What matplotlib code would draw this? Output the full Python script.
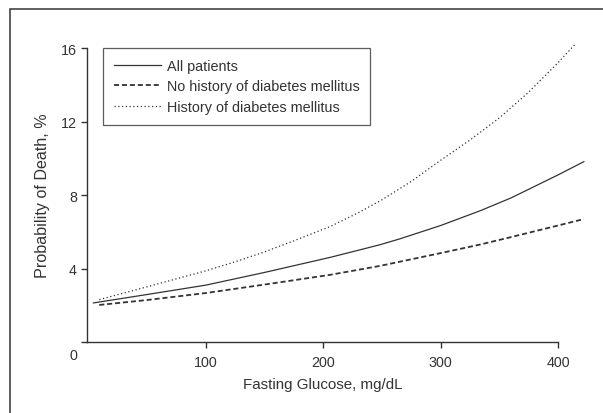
import matplotlib
matplotlib.use("Agg")

import matplotlib.pyplot as plt
from matplotlib.patches import Rectangle

plt.rcParams['font.family'] = ['Liberation Sans Narrow', 'Liberation Sans', 'DejaVu Sans']

# glucose (mg/dL) vs probability of death (%)
glucose_all = [4, 50, 100, 150, 206, 248, 265, 300, 334, 360, 400, 422]
death_all = [2.14, 2.6, 3.11, 3.8, 4.62, 5.3, 5.62, 6.35, 7.16, 7.85, 9.1, 9.82]

glucose_nodm = [9, 50, 100, 150, 206, 248, 300, 334, 360, 400, 422]
death_nodm = [2.03, 2.3, 2.68, 3.14, 3.67, 4.15, 4.85, 5.32, 5.72, 6.35, 6.7]

glucose_dm = [9, 50, 100, 125, 150, 175, 206, 230, 250, 275, 300, 325, 350, 375, 400, 414.5]
death_dm = [2.32, 3.02, 3.89, 4.38, 4.92, 5.52, 6.3, 7.05, 7.75, 8.75, 9.9, 11.0, 12.2, 13.6, 15.2, 16.2]

series_labels = ["All patients", "No history of diabetes mellitus", "History of diabetes mellitus"]
x_ticks = [100, 200, 300, 400]
y_ticks = [0, 4, 8, 12, 16]
y_ticklabels = ["", "4", "8", "12", "16"]

ink = "#333333"

fig = plt.figure(figsize=(6.03, 4.14), dpi=100)
ax = fig.add_axes([0.1438, 0.1708, 0.9254 - 0.1438, 0.8816 - 0.1708])

ax.plot(glucose_all, death_all, color=ink, lw=0.9, ls="-",
        label=series_labels[0], clip_on=False)
ax.plot(glucose_nodm, death_nodm, color=ink, lw=1.3, ls=(0, (2.8, 1.6)),
        label=series_labels[1], clip_on=False)
ax.plot(glucose_dm, death_dm, color=ink, lw=0.9, ls=(0, (1, 2)),
        label=series_labels[2], clip_on=False)

ax.set_xlim(-1.7, 400)
ax.set_ylim(0, 16)
ax.set_xticks(x_ticks)
ax.set_yticks(y_ticks)
ax.set_yticklabels(y_ticklabels)

for side in ["top", "right"]:
    ax.spines[side].set_visible(False)
for side in ["left", "bottom"]:
    ax.spines[side].set_color(ink)
    ax.spines[side].set_linewidth(1.0)

ax.tick_params(direction="out", length=4, width=1.0, color=ink,
               labelcolor=ink, labelsize=10.3)
ax.tick_params(axis="x", pad=5)
ax.tick_params(axis="y", pad=3)

# shared origin label sits below and left of the corner
ax.annotate("0", xy=(0, 0), xytext=(-11.3, -9.4), textcoords="offset points",
            ha="center", va="center", fontsize=10.3, color=ink,
            annotation_clip=False)

ax.set_xlabel("Fasting Glucose, mg/dL", fontsize=10.9, color=ink, labelpad=6)
ax.set_ylabel("Probability of Death, %", fontsize=11.6, color=ink, labelpad=8)

leg = ax.legend(loc="upper left", bbox_to_anchor=(0.035, 1.0), borderaxespad=0,
                fancybox=False, frameon=True, fontsize=10.4, handlelength=3.25,
                handletextpad=0.4, labelspacing=0.45, borderpad=0.75,
                labelcolor=ink)
leg.get_frame().set_edgecolor(ink)
leg.get_frame().set_linewidth(0.9)

# outer frame; only its top and left edges fall inside the image
fig.patches.append(Rectangle((10 / 603, -0.1), 1.2, 1.1 - 10 / 414,
                             transform=fig.transFigure, fill=False,
                             edgecolor=ink, lw=1.1))

fig.savefig("out.png", dpi=100)
